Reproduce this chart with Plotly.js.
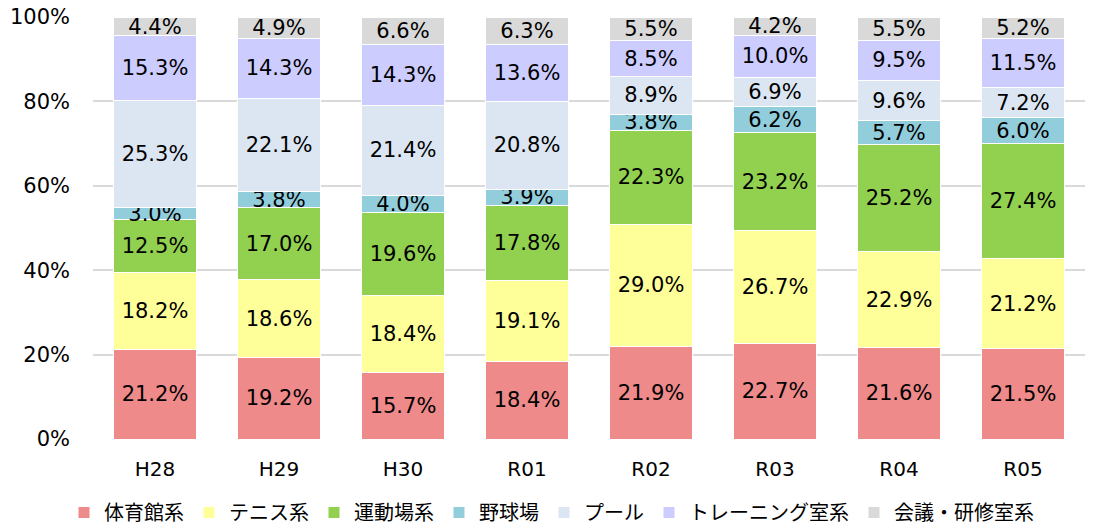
<!DOCTYPE html>
<html><head><meta charset="utf-8">
<script src="https://cdn.plot.ly/plotly-3.0.1.min.js"></script>
<style>html,body{margin:0;padding:0;background:#fff}#c{width:1103px;height:532px}</style>
</head><body><div id="c"></div>
<script>
const categories = ["H28","H29","H30","R01","R02","R03","R04","R05"];
const seriesNames = ["体育館系","テニス系","運動場系","野球場","プール","トレーニング室系","会議・研修室系"];
const gym      = [21.2,19.2,15.7,18.4,21.9,22.7,21.6,21.5];
const tennis   = [18.2,18.6,18.4,19.1,29.0,26.7,22.9,21.2];
const field    = [12.5,17.0,19.6,17.8,22.3,23.2,25.2,27.4];
const baseball = [3.0,3.8,4.0,3.9,3.8,6.2,5.7,6.0];
const pool     = [25.3,22.1,21.4,20.8,8.9,6.9,9.6,7.2];
const training = [15.3,14.3,14.3,13.6,8.5,10.0,9.5,11.5];
const meeting  = [4.4,4.9,6.6,6.3,5.5,4.2,5.5,5.2];
const yTicks = [0,20,40,60,80,100];

const colors = ["#EE8A8A","#FFFF99","#92D050","#92CDDC","#DCE6F2","#CCCCFF","#D9D9D9"];
const allSeries = [gym,tennis,field,baseball,pool,training,meeting];
const font = "DejaVu Sans, Verdana, Noto Sans CJK JP, sans-serif";

const traces = allSeries.map((vals,i)=>({
  type:"bar", name:seriesNames[i], x:categories, y:vals,
  marker:{color:colors[i], line:{color:"#ffffff", width:1}},
  text: vals.map(v=>v.toFixed(1)+"%"),
  textposition:"inside", insidetextanchor:"middle", textangle:0,
  textfont:{size:21, color:"#000", family:font},
  hoverinfo:"skip"
}));

const layout = {
  barmode:"stack", bargap:0.33,
  width:1103, height:532,
  margin:{l:93, r:18, t:17, b:93},
  paper_bgcolor:"#fff", plot_bgcolor:"#fff",
  font:{family:font, size:20, color:"#000"},
  uniformtext:{mode:"show", minsize:21},
  xaxis:{type:"category", tickfont:{size:20,color:"#000"}, showline:false, ticks:"", ticklabelstandoff:16, automargin:false},
  yaxis:{range:[0,100], tickvals:yTicks, ticktext:yTicks.map(v=>v+"%"),
         gridcolor:"#D9D9D9", gridwidth:2, zeroline:false, tickfont:{size:21,color:"#000"}, ticks:"", ticklabelstandoff:22, automargin:false},
  showlegend:true,
  legend:{orientation:"h", x:0.5, xanchor:"center", xref:"container", y:-0.012, yanchor:"bottom", yref:"container", traceorder:"normal",
          font:{size:20,color:"#000",family:font}, itemwidth:30, itemclick:false},
};
Plotly.newPlot("c", traces, layout, {displayModeBar:false, staticPlot:true});
</script></body></html>
